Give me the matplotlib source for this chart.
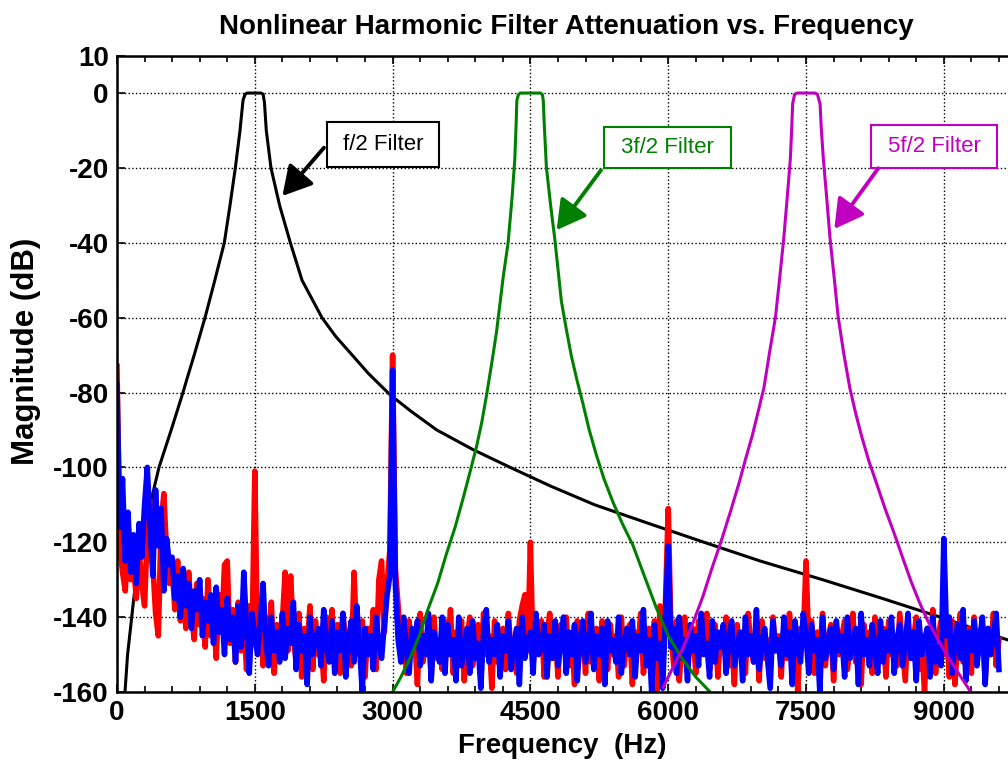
import numpy as np
import matplotlib
matplotlib.use("Agg")
import matplotlib.pyplot as plt
from matplotlib.patches import Rectangle

plt.rcParams['font.family'] = ['Liberation Sans', 'DejaVu Sans']
plt.rcParams['axes.unicode_minus'] = False

# filter responses (Hz, dB)
f2_freq = [87, 115, 141, 205, 272, 360, 457, 590, 718, 766, 840, 958, 1065, 1168, 1230,
           1288, 1339, 1355, 1372, 1395, 1415, 1567, 1590, 1605, 1625, 1676, 1770, 1887,
           2014, 2231, 2380, 2560, 2740, 2972, 3200, 3480, 3879, 4280, 4720, 5200, 5790,
           6390, 7000, 7680, 8330, 8960, 9560, 10000]
f2_db = [-160, -150, -144.3, -130, -120, -110, -100, -90, -80, -76, -70, -60, -50, -40, -30,
         -20, -10, -6, -1.9, -0.3, 0, 0, -0.3, -2.5, -10, -20, -30, -40,
         -50, -60, -65, -70, -75, -80.6, -85, -90, -95.3, -100, -105, -110, -115,
         -120, -125, -130, -135, -140, -145, -148.5]

f3_freq = [3000, 3090, 3188, 3290, 3388, 3490, 3587, 3680, 3768, 3845, 3913, 3970, 4022,
           4080, 4130, 4170, 4203, 4257, 4300, 4330, 4345, 4352, 4370, 4390, 4610, 4630,
           4640, 4650, 4674, 4720, 4764, 4800, 4837, 4890, 4946, 5010, 5072, 5140, 5217,
           5300, 5399, 5500, 5616, 5740, 5870, 6000, 6150, 6300, 6449]
f3_db = [-160, -156, -151, -145, -137.7, -131, -123, -116, -108.2, -101, -94.5, -88, -80.8,
         -72, -64, -56, -49.3, -40, -28, -17.7, -8, -2, -0.4, 0, 0, -0.4,
         -2, -8, -19.8, -30, -38.7, -47, -55.6, -63, -70.3, -77, -83, -90, -96.6,
         -103, -109.3, -115, -120.8, -129, -137.5, -145, -151, -156, -159.8]

f5_freq = [5946, 6050, 6162, 6270, 6377, 6475, 6575, 6675, 6773, 6845, 6916, 6980, 7042,
           7105, 7168, 7215, 7258, 7295, 7329, 7345, 7354, 7375, 7400, 7600, 7625, 7653,
           7665, 7689, 7725, 7761, 7805, 7850, 7910, 7976, 8040, 8102, 8180, 8264, 8360,
           8461, 8550, 8641, 8730, 8821, 8930, 9036, 9160, 9288]
f5_db = [-158.7, -153.5, -148.2, -141.5, -134.5, -127, -119.8, -112, -104, -97.5, -91.4, -85, -78.7,
         -69, -59.8, -49, -38.7, -28, -17.7, -9, -2.9, -0.4, 0, 0, -0.4, -2.9,
         -9, -17.7, -28, -38.7, -49, -59.8, -69.5, -78.7, -85.5, -91.4, -98, -104, -111,
         -117.7, -124, -130.3, -135.8, -140.8, -145.8, -150.3, -155, -159.8]

# measured spectra, one value every 30 Hz from 0 to 9600 Hz
red_db = [
    -73, -121, -128, -133, -119, -130, -126, -135, -122, -131, -137, -117, -109, -126, -139, -145, -115, -107, -123, -131,
    -127, -138, -125, -141, -132, -143, -128, -139, -146, -131, -142, -135, -148, -130, -145, -139, -151, -134, -143, -126,
    -125, -147, -138, -152, -136, -149, -141, -154, -137, -146, -101, -148, -139, -153, -140, -150, -136, -155, -142, -151,
    -141, -128, -149, -129, -145, -152, -139, -156, -143, -148, -137, -154, -141, -150, -146, -157, -140, -151, -138, -153,
    -142, -155, -139, -148, -144, -153, -128, -147, -150, -141, -156, -143, -149, -138, -154, -130, -125, -144, -131, -122,
    -70, -127, -137, -148, -143, -155, -141, -150, -145, -158, -139, -152, -147, -143, -156, -140, -151, -146, -154, -141,
    -149, -138, -155, -144, -151, -141, -157, -146, -140, -153, -148, -142, -155, -139, -150, -145, -159, -141, -152, -147,
    -143, -154, -139, -150, -146, -155, -141, -137, -134, -149, -120, -152, -143, -148, -141, -156, -145, -139, -151, -144,
    -156, -142, -149, -140, -153, -145, -158, -141, -150, -144, -155, -139, -152, -147, -143, -157, -141, -148, -154, -142,
    -150, -145, -156, -140, -153, -146, -142, -158, -144, -149, -139, -155, -147, -143, -152, -141, -160, -137, -147, -136,
    -111, -144, -153, -141, -157, -146, -140, -152, -148, -143, -155, -141, -150, -145, -139, -154, -147, -142, -156, -144,
    -149, -140, -153, -146, -158, -142, -150, -144, -155, -139, -148, -152, -143, -157, -141, -151, -146, -154, -140, -149,
    -145, -156, -142, -151, -139, -153, -147, -160, -143, -146, -125, -148, -141, -155, -144, -150, -139, -153, -146, -142,
    -157, -143, -150, -145, -141, -154, -148, -139, -152, -146, -158, -142, -149, -144, -155, -140, -151, -147, -143, -156,
    -141, -150, -145, -153, -139, -148, -157, -142, -151, -146, -140, -154, -147, -160, -143, -149, -138, -155, -145, -141,
    -150, -144, -156, -141, -158, -147, -139, -152, -146, -143, -155, -140, -151, -148, -142, -157, -144, -150, -139, -153,
    -146]

blue_db = [
    -78, -116, -103, -125, -112, -128, -118, -131, -115, -124, -110, -100, -117, -129, -106, -121, -111, -133, -119, -126,
    -124, -135, -129, -140, -127, -137, -131, -143, -133, -138, -130, -145, -136, -141, -134, -147, -132, -144, -138, -150,
    -135, -146, -140, -152, -137, -148, -128, -143, -155, -139, -145, -150, -141, -131, -147, -153, -140, -149, -144, -152,
    -139, -151, -143, -147, -136, -154, -142, -149, -145, -158, -140, -150, -146, -143, -153, -138, -148, -152, -141, -155,
    -144, -149, -139, -156, -146, -141, -152, -137, -148, -160, -143, -150, -145, -154, -140, -147, -151, -142, -134, -129,
    -74, -131, -146, -152, -140, -149, -155, -143, -147, -141, -153, -145, -150, -139, -157, -144, -148, -152, -140, -155,
    -142, -150, -146, -157, -140, -153, -148, -143, -155, -141, -151, -147, -159, -144, -138, -152, -146, -150, -142, -156,
    -145, -149, -141, -154, -147, -143, -158, -140, -151, -146, -144, -155, -139, -150, -148, -142, -156, -145, -151, -141,
    -153, -147, -140, -155, -144, -150, -142, -157, -146, -141, -152, -148, -139, -154, -145, -150, -143, -158, -141, -149,
    -146, -152, -140, -155, -147, -143, -150, -141, -156, -145, -149, -138, -153, -146, -160, -142, -151, -147, -159, -139,
    -121, -148, -143, -155, -140, -151, -146, -157, -142, -149, -145, -153, -139, -150, -147, -156, -141, -152, -144, -148,
    -142, -155, -146, -141, -153, -148, -144, -157, -140, -150, -145, -152, -138, -154, -147, -143, -151, -159, -141, -149,
    -146, -153, -140, -150, -144, -158, -141, -148, -152, -139, -145, -155, -142, -149, -146, -160, -140, -151, -147, -143,
    -154, -141, -149, -145, -156, -140, -151, -147, -143, -158, -139, -150, -146, -153, -142, -148, -155, -141, -152, -144,
    -149, -140, -155, -146, -142, -153, -147, -139, -151, -144, -157, -141, -150, -146, -143, -156, -140, -152, -148, -153,
    -119, -145, -140, -155, -147, -142, -151, -138, -157, -144, -149, -141, -153, -146, -140, -158, -143, -150, -145, -139,
    -154]

spec_freq = np.arange(len(red_db)) * 30

labels = ["f/2 Filter", "3f/2 Filter", "5f/2 Filter"]
label_colors = ["black", "green", "#C000C0"]

fig = plt.figure(figsize=(10.08, 7.64), dpi=100)
ax = fig.add_axes([117 / 1008, 72 / 764, 918.7 / 1008, 636.4 / 764])

ax.plot(f2_freq, f2_db, color="black", lw=2.2)
ax.plot(spec_freq, red_db, color="red", lw=4.0)
ax.plot(spec_freq, blue_db, color="blue", lw=4.0)
ax.plot(f3_freq, f3_db, color="green", lw=2.2)
ax.plot(f5_freq, f5_db, color="#C000C0", lw=2.2)

ax.set_xlim(0, 10000)
ax.set_ylim(-160, 10)
ax.set_xticks([0, 1500, 3000, 4500, 6000, 7500, 9000])
ax.set_xticks(np.arange(0, 10001, 300), minor=True)
ax.set_yticks([-160, -140, -120, -100, -80, -60, -40, -20, 0, 10])
ax.grid(True, which="major", color="black", linestyle=":", lw=1.0)
ax.tick_params(which="both", direction="in", top=True, right=True, width=1.2)
ax.tick_params(which="major", length=6, labelsize=20, pad=6)
ax.tick_params(which="minor", length=4)
for lab in ax.get_xticklabels() + ax.get_yticklabels():
    lab.set_fontweight("bold")
for sp in ax.spines.values():
    sp.set_linewidth(1.8)

# annotation boxes with arrows (box x0, x1, y0, y1 and arrow tail / tip)
boxes = [(2286, 3505, -19.8, -7.7), (5301, 6683, -20.0, -9.0), (8207, 9579, -20.0, -8.5)]
arrows = [((2253, -14.6), (1800, -27.5)), ((5268, -20.6), (4785, -36.6)),
          ((8287, -20.1), (7808, -36.3))]
for lab, col, (x0, x1, y0, y1), (tail, tip) in zip(labels, label_colors, boxes, arrows):
    ax.add_patch(Rectangle((x0, y0), x1 - x0, y1 - y0, facecolor="white",
                           edgecolor=col, lw=1.5, zorder=5))
    ax.text((x0 + x1) / 2, (y0 + y1) / 2, lab, color=col, fontsize=16,
            ha="center", va="center", zorder=6)
    ax.annotate("", xy=tip, xytext=tail, zorder=6,
                arrowprops=dict(arrowstyle="-|>,head_length=0.8,head_width=0.45",
                                mutation_scale=22, color=col, lw=2.8,
                                shrinkA=0, shrinkB=0))

ax.set_xlabel("Frequency  (Hz)", fontsize=20, fontweight="bold")
ax.set_ylabel("Magnitude (dB)", fontsize=22.5, fontweight="bold")
ax.xaxis.set_label_coords((562 - 117) / 918.7, -0.064)
ax.yaxis.set_label_coords(-0.083, 0.536)
fig.text(566 / 1008, 1 - 27 / 764, "Nonlinear Harmonic Filter Attenuation vs. Frequency",
         fontsize=20, fontweight="bold", ha="center", va="center")

fig.savefig("out.png", dpi=100)
